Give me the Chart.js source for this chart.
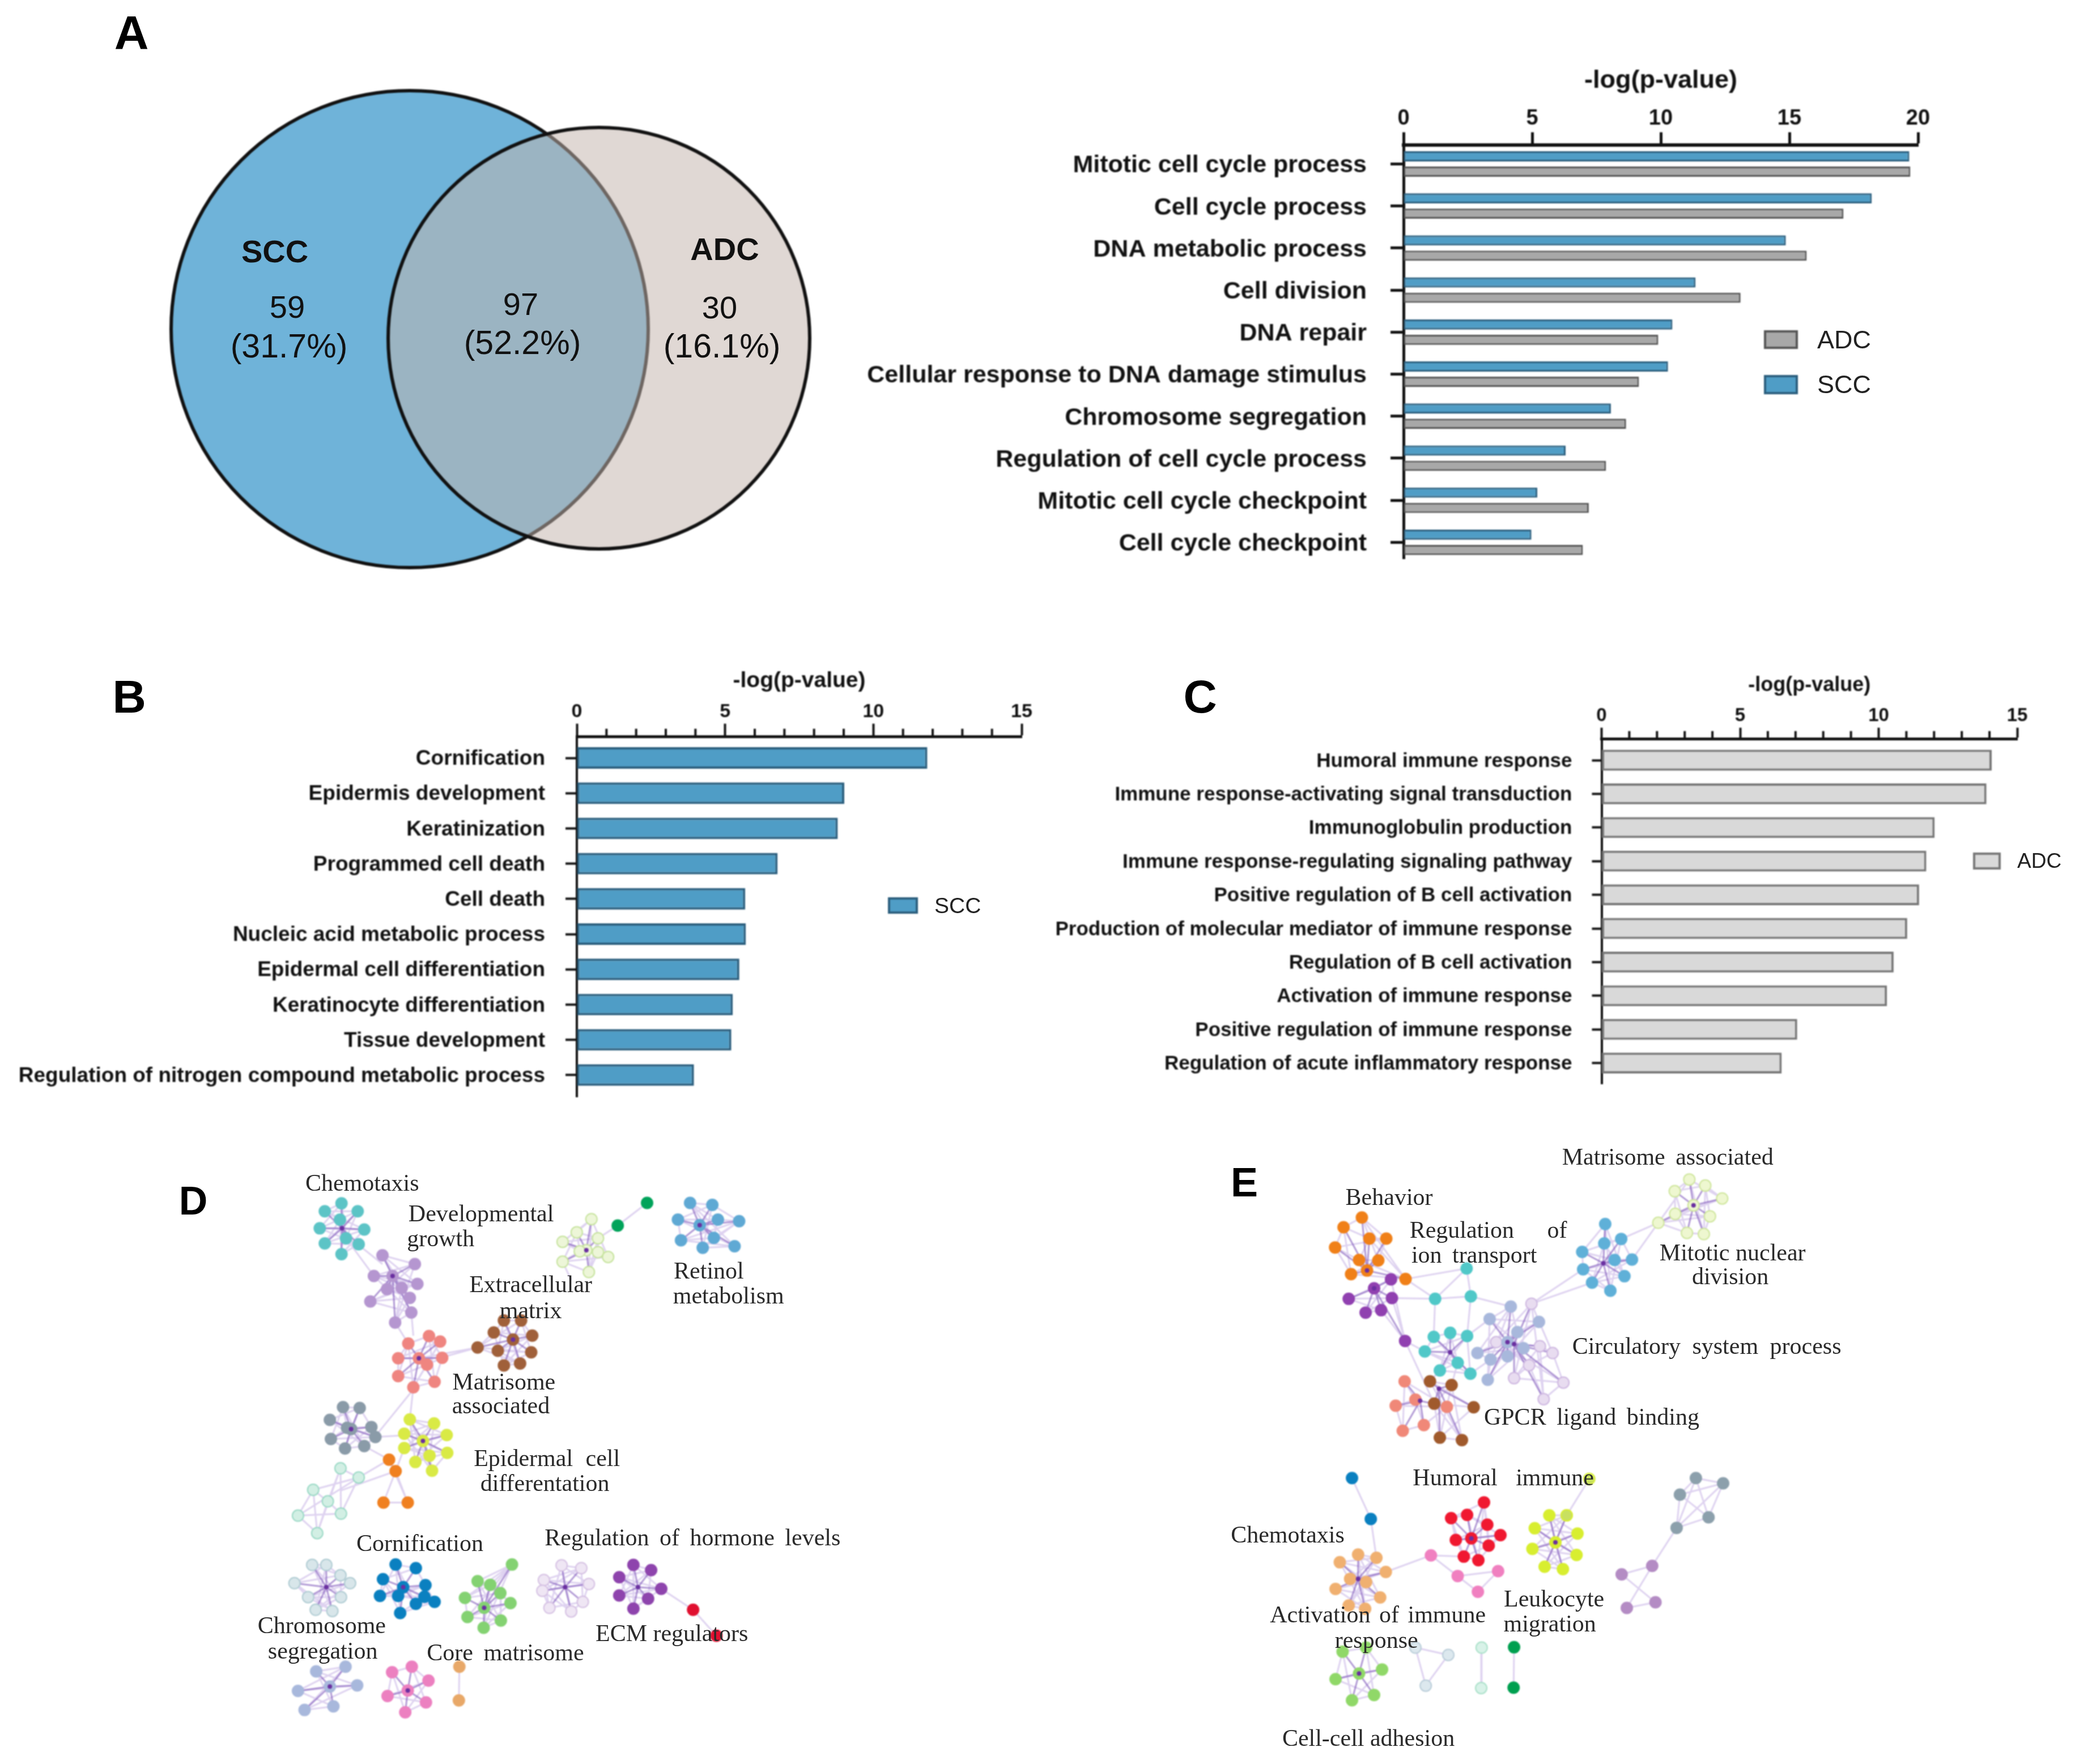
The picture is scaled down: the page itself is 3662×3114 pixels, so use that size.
<!DOCTYPE html>
<html>
<head>
<meta charset="utf-8">
<title>SCC and ADC enrichment</title>
<script src="https://cdn.jsdelivr.net/npm/chart.js@4/dist/chart.umd.min.js"></script>
<style>
    html, body { margin: 0; padding: 0; background: #fff; }
    #page { position: relative; width: 3662px; height: 3114px; overflow: hidden; }
    canvas { position: absolute; filter: blur(1px); }
    .txt { position: absolute; transform: translate(-50%, -50%); white-space: pre; filter: blur(0.7px); }
    .swatch { position: absolute; box-sizing: border-box; filter: blur(1px); }
</style>
</head>
<body>
<div id="page"></div>
<script>
// Panel A
const categoriesA = ['Mitotic cell cycle process', 'Cell cycle process', 'DNA metabolic process', 'Cell division', 'DNA repair',
    'Cellular response to DNA damage stimulus', 'Chromosome segregation', 'Regulation of cell cycle process',
    'Mitotic cell cycle checkpoint', 'Cell cycle checkpoint'];
const sccValuesA = [19.66, 18.2, 14.86, 11.35, 10.45, 10.28, 8.06, 6.3, 5.2, 4.97];
const adcValuesA = [19.7, 17.1, 15.67, 13.1, 9.9, 9.15, 8.65, 7.87, 7.2, 6.97];

// Panel B
const categoriesB = ['Cornification', 'Epidermis development', 'Keratinization', 'Programmed cell death', 'Cell death',
    'Nucleic acid metabolic process', 'Epidermal cell differentiation', 'Keratinocyte differentiation',
    'Tissue development', 'Regulation of nitrogen compound metabolic process'];
const sccValuesB = [11.82, 9.02, 8.8, 6.77, 5.68, 5.7, 5.48, 5.26, 5.21, 3.95];

// Panel C
const categoriesC = ['Humoral immune response', 'Immune response-activating signal transduction', 'Immunoglobulin production',
    'Immune response-regulating signaling pathway', 'Positive regulation of B cell activation',
    'Production of molecular mediator of immune response', 'Regulation of B cell activation',
    'Activation of immune response', 'Positive regulation of immune response', 'Regulation of acute inflammatory response'];
const adcValuesC = [14.08, 13.89, 12.02, 11.72, 11.46, 11.03, 10.54, 10.3, 7.06, 6.5];

// Venn circles, in page units
const vennCentersX = [723, 1057];
const vennCentersY = [581, 597];
const vennRadii = [421, 372];

// Network D. In hub clusters the first pair is the hub.
const chemotaxisD = [[452,240],[451,177],[418,197],[483,197],[408,240],[496,243],[418,278],[485,280],[451,305],[448,218],[460,265]];
const growthD = [[552,360],[532,308],[596,330],[515,360],[601,380],[541,393],[570,390],[508,424],[586,415],[557,477],[589,452]];
const matrisomeD = [[604,567],[583,530],[624,511],[646,525],[563,567],[650,566],[620,583],[563,612],[635,626],[593,640]];
const brownD = [[790,520],[720,540],[752,502],[772,472],[806,472],[828,510],[760,548],[826,552],[772,585],[804,580]];
const matrixD = [[935,295],[945,217],[916,250],[958,265],[888,274],[922,298],[958,300],[978,312],[888,324],[940,350]];
const darkGreenD = [[997,233],[1055,176]];
const retinolD = [[1159,232],[1140,176],[1184,181],[1116,218],[1195,218],[1237,222],[1122,270],[1187,264],[1165,289],[1228,285]];
const greyD = [[470,745],[454,690],[487,692],[428,722],[462,742],[510,740],[518,765],[430,770],[458,794],[496,788]];
const yellowD = [[612,775],[586,721],[634,731],[575,757],[659,760],[575,793],[660,805],[597,828],[625,812],[630,850]];
const orangeD = [[545,822],[558,851],[534,930],[582,930]];
const paleTealD = [[449,844],[485,867],[395,898],[424,927],[450,958],[365,963],[403,1007]];
const chromosomeD = [[421,1143],[393,1087],[421,1087],[358,1133],[449,1113],[468,1133],[385,1168],[450,1168],[400,1200],[433,1203]];
const cornificationD = [[573,1143],[558,1086],[598,1095],[533,1123],[527,1165],[617,1138],[563,1165],[615,1167],[598,1185],[635,1180],[567,1208]];
const coreD = [[733,1195],[788,1086],[720,1128],[745,1137],[695,1170],[765,1158],[785,1183],[700,1218],[766,1227],[732,1245]];
const hormoneD = [[893,1143],[886,1088],[925,1095],[851,1125],[940,1135],[848,1152],[862,1195],[928,1180],[905,1204]];
const ecmD = [[1037,1143],[1028,1087],[1063,1100],[1000,1118],[1083,1147],[1000,1164],[1057,1172],[1028,1197]];
const redD = [[1146,1200],[1192,1265]];
const periwinkleD = [[428,1393],[401,1355],[459,1343],[365,1404],[482,1390],[378,1452],[435,1443]];
const pinkD = [[582,1403],[551,1357],[590,1343],[623,1378],[542,1417],[618,1433],[577,1458]];
const peachD = [[684,1343],[683,1428]];
const linksD = [[483,280,532,330],[515,360,460,265],[557,477,583,530],[589,452,593,510],[646,566,720,540],[604,567,720,540],
    [593,640,586,721],[590,650,520,760],[518,765,586,760],[575,793,558,851],[496,788,545,822],[558,851,449,900],
    [545,822,485,867],[485,867,395,898],[449,844,424,927],[558,851,534,930],[558,851,582,930],[958,265,997,233],
    [888,324,905,370],[1083,1147,1146,1200],[788,1086,745,1137],[1237,222,1187,264]];

// Network E
const matrisomeE = [[1072,207],[1063,143],[1032,172],[1097,158],[1133,190],[1033,228],[1107,234],[997,250],[1058,275],[1094,278]];
const blueE = [[880,350],[884,253],[882,301],[918,290],[835,322],[904,342],[941,341],[837,365],[925,382],[856,398],[895,418]];
const orangeE = [[377,368],[366,237],[327,261],[382,289],[418,289],[309,311],[360,342],[401,343],[343,377],[459,389]];
const purpleE = [[392,412],[428,390],[338,438],[430,436],[374,472],[407,466],[458,542]];
const upperTealE = [[589,363],[522,438],[598,432]];
const tealE = [[554,570],[519,532],[554,522],[590,530],[500,568],[570,596],[532,615],[597,623]];
const periwinkleE = [[676,545],[683,457],[638,488],[743,495],[612,572],[710,560],[676,580],[640,588],[634,638],[697,520]];
const palePurpleE = [[690,550],[727,450],[652,545],[745,555],[772,572],[722,602],[690,634],[795,645],[753,686]];
const salmonE = [[490,690],[457,642],[480,687],[438,702],[547,705],[498,750],[453,764]];
const brownE = [[530,660],[511,642],[557,651],[520,697],[604,706],[532,781],[579,787]];
const topBlueE = [[345,881],[385,982]];
const limeE = [[850,883],[802,973]];
const redE = [[599,1030],[626,941],[556,980],[590,972],[633,996],[566,1034],[661,1022],[636,1048],[583,1075],[614,1084]];
const pinkE = [[513,1072],[570,1123],[656,1111],[613,1162]];
const yellowE = [[778,1040],[765,973],[802,973],[734,1005],[825,1018],[729,1056],[823,1071],[755,1100],[794,1106]];
const tanE = [[358,1130],[358,1070],[397,1078],[319,1089],[417,1113],[341,1130],[375,1138],[310,1155],[405,1176],[338,1196],[373,1204]];
const greyE = [[1077,881],[1135,894],[1043,922],[1104,978],[1036,1004]];
const mauveE = [[984,1098],[919,1119],[991,1188],[930,1202]];
const greenE = [[360,1364],[325,1310],[375,1300],[409,1354],[310,1378],[392,1417],[345,1430]];
const paleBlueE = [[480,1300],[550,1318],[502,1394]];
const paleTealE = [[621,1300],[620,1400]];
const darkGreenE = [[690,1299],[689,1399]];
const linksE = [[459,389,589,363],[459,389,522,438],[589,363,522,438],[430,436,522,438],[430,436,458,542],[458,542,500,568],
    [458,542,520,697],[522,438,519,532],[598,432,590,530],[598,432,683,457],[727,450,856,398],[727,450,837,365],[941,341,997,250],
    [918,290,997,250],[597,623,640,588],[590,530,638,488],[532,615,511,642],[570,596,557,651],[772,572,795,645],[722,602,753,686],
    [385,982,397,1078],[417,1113,513,1072],[513,1072,583,1075],[850,883,802,973],[1036,1004,984,1098],[557,651,579,787],[520,697,532,781]];

const SCC_FILL = '#4f9dc6', SCC_EDGE = '#2c5f7e';
const ADC_FILL = '#a8a8a8', ADC_EDGE = '#555555';
const ADC_PALE = '#d9d9d9', ADC_PALE_EDGE = '#777777';
const SPOKE = 'rgba(125,85,185,0.6)', WEB = 'rgba(190,165,225,0.5)', HUB = '#6a2fa0';
// hub kinds for the cluster tables below
const NO_HUB = 0, BARE_HUB = 1, NODE_HUB = 2;

const page = document.getElementById('page');

function addCanvas(x, y, w, h) {
    const c = document.createElement('canvas');
    c.width = w;
    c.height = h;
    c.style.left = x + 'px';
    c.style.top = y + 'px';
    c.style.width = w + 'px';
    c.style.height = h + 'px';
    page.appendChild(c);
    return c;
}

function addText(text, x, y, font, color, wordSpacing) {
    const d = document.createElement('div');
    d.className = 'txt';
    d.textContent = text;
    d.style.left = x + 'px';
    d.style.top = y + 'px';
    d.style.font = font;
    d.style.color = color || '#111';
    if (wordSpacing) d.style.wordSpacing = wordSpacing + 'px';
    page.appendChild(d);
}

function addLegendItem(label, x, y, w, h, fill, edge, size, textX) {
    const s = document.createElement('div');
    s.className = 'swatch';
    s.style.cssText = `left:${x}px;top:${y}px;width:${w}px;height:${h}px;background:${fill};border:4px solid ${edge}`;
    page.appendChild(s);
    const d = document.createElement('div');
    d.className = 'txt';
    d.textContent = label;
    d.style.cssText = `left:${textX}px;top:${y + h / 2}px;font:${size}px "Liberation Sans",Arial,sans-serif;color:#222;transform:translate(0,-50%)`;
    page.appendChild(d);
}

// small ticks between the labelled ones, placed with the x scale
const minorTicks = {
    id: 'minorTicks',
    afterDraw(chart, args, opts) {
        if (!opts.length) return;
        const x = chart.scales.x, ctx = chart.ctx, top = chart.chartArea.top;
        ctx.save();
        ctx.strokeStyle = '#111';
        ctx.lineWidth = opts.width;
        for (let v = x.min; v <= x.max; v++) {
            if (v % 5 === 0) continue;
            const px = x.getPixelForValue(v);
            ctx.beginPath();
            ctx.moveTo(px, top);
            ctx.lineTo(px, top - opts.length);
            ctx.stroke();
        }
        ctx.restore();
    }
};

function barPanel(p) {
    const w = p.boxRight - p.boxLeft, h = p.boxBottom - p.boxTop;
    const canvas = addCanvas(p.boxLeft, p.boxTop, w, h);
    new Chart(canvas, {
        type: 'bar',
        data: { labels: p.labels, datasets: p.datasets },
        plugins: [minorTicks],
        options: {
            indexAxis: 'y',
            responsive: false,
            animation: false,
            devicePixelRatio: 1,
            layout: { autoPadding: false, padding: { right: p.boxRight - p.x20, bottom: p.boxBottom - p.axisBottom } },
            plugins: {
                legend: { display: false },
                tooltip: { enabled: false },
                minorTicks: { length: p.minorLength, width: p.tickWidth }
            },
            scales: {
                x: {
                    position: 'top',
                    min: 0,
                    max: p.max,
                    afterFit: s => { s.height = p.axisTop - p.boxTop; },
                    border: { color: '#111', width: p.axisWidth },
                    grid: { drawOnChartArea: false, tickLength: p.majorLength, tickWidth: p.tickWidth, tickColor: '#111' },
                    ticks: { stepSize: 5, color: '#111', padding: p.xPad, maxRotation: 0,
                        font: { family: '"Liberation Sans", Arial', weight: 'bold', size: p.xFont } },
                    title: { display: true, text: '-log(p-value)', color: '#111', padding: { top: p.titlePad, bottom: 0 },
                        font: { family: '"Liberation Sans", Arial', weight: 'bold', size: p.titleFont } }
                },
                y: {
                    afterFit: s => {
                        s.width = p.x0 - p.boxLeft;
                        s.paddingTop = 0;
                        s.paddingBottom = 0;
                    },
                    // the value axis sits a little above the first band, so start the bands later than the default
                    afterBuildTicks: s => {
                        s._startValue = -(p.firstCenter - p.axisTop) / p.step;
                        s._valueRange = (p.axisBottom - p.axisTop) / p.step;
                    },
                    border: { color: '#111', width: p.axisWidth - 1 },
                    grid: { offset: false, drawOnChartArea: false, tickLength: p.catTick, tickWidth: p.tickWidth, tickColor: '#111' },
                    ticks: { autoSkip: false, color: '#111', padding: p.catPad, labelOffset: p.catShift,
                        font: { family: '"Liberation Sans", Arial', weight: 'bold', size: p.catFont } }
                }
            }
        }
    });
}

function bars(label, data, fill, edge, width, catPct, barPct) {
    return { label, data, backgroundColor: fill, borderColor: edge, borderWidth: width, borderSkipped: false,
        categoryPercentage: catPct, barPercentage: barPct };
}

barPanel({
    labels: categoriesA,
    datasets: [bars('SCC', sccValuesA, SCC_FILL, SCC_EDGE, 3, 0.727, 0.66), bars('ADC', adcValuesA, ADC_FILL, ADC_EDGE, 3, 0.727, 0.66)],
    boxLeft: 1500, boxRight: 3500, boxTop: 100, boxBottom: 1010,
    x0: 2477, x20: 3385, axisTop: 255.5, axisBottom: 986, firstCenter: 289.5, step: 74.2, max: 20,
    axisWidth: 6, tickWidth: 5, majorLength: 22, minorLength: 0, catTick: 23,
    xFont: 38, xPad: 1, titleFont: 45, titlePad: 16, catFont: 43, catPad: 42, catShift: 3
});

barPanel({
    labels: categoriesB,
    datasets: [bars('SCC', sccValuesB, SCC_FILL, SCC_EDGE, 4, 1, 0.61)],
    boxLeft: 0, boxRight: 1850, boxTop: 1150, boxBottom: 1950,
    x0: 1018, x20: 1803, axisTop: 1300.5, axisBottom: 1936, firstCenter: 1338, step: 62.2, max: 15,
    axisWidth: 5, tickWidth: 4, majorLength: 23, minorLength: 14, catTick: 20,
    xFont: 34, xPad: 0, titleFont: 39, titlePad: 29, catFont: 37, catPad: 36, catShift: 2
});

barPanel({
    labels: categoriesC,
    datasets: [bars('ADC', adcValuesC, ADC_PALE, ADC_PALE_EDGE, 4, 1, 0.62)],
    boxLeft: 1850, boxRight: 3662, boxTop: 1150, boxBottom: 1950,
    x0: 2826.5, x20: 3560, axisTop: 1304.6, axisBottom: 1913, firstCenter: 1342, step: 59.4, max: 15,
    axisWidth: 5, tickWidth: 4, majorLength: 20, minorLength: 14, catTick: 17,
    xFont: 33, xPad: 1, titleFont: 36, titlePad: 38, catFont: 35, catPad: 35, catShift: 2
});

addLegendItem('ADC', 3113, 583, 60, 33, ADC_FILL, ADC_EDGE, 45, 3207);
addLegendItem('SCC', 3113, 662, 60, 34, SCC_FILL, SCC_EDGE, 45, 3207);
addLegendItem('SCC', 1567, 1584, 53, 29, SCC_FILL, SCC_EDGE, 39, 1649);
addLegendItem('ADC', 3482, 1505, 49, 30, ADC_PALE, ADC_PALE_EDGE, 37, 3560);

// Venn as a bubble chart, axes run in page units
new Chart(addCanvas(250, 130, 1230, 900), {
    type: 'bubble',
    data: {
        datasets: [1, 0].map(i => ({
            label: i ? 'ADC' : 'SCC',
            order: i ? 1 : 2,
            data: [{ x: vennCentersX[i], y: vennCentersY[i], r: vennRadii[i] }],
            backgroundColor: i ? 'rgba(196,181,173,0.52)' : '#6fb3d9',
            borderColor: '#111',
            borderWidth: 6,
            hoverRadius: 0
        }))
    },
    options: {
        responsive: false,
        animation: false,
        devicePixelRatio: 1,
        layout: { autoPadding: false },
        plugins: { legend: { display: false }, tooltip: { enabled: false } },
        scales: {
            x: { display: false, min: 250, max: 1480 },
            y: { display: false, min: 130, max: 1030, reverse: true }
        }
    }
});

function network(x, y, w, h, clusters, links) {
    const spokes = [], web = [], hubs = [];
    const gap = { x: null, y: null };
    clusters.forEach(([nodes, , , hub]) => {
        if (hub !== NO_HUB) {
            hubs.push({ x: nodes[0][0], y: nodes[0][1] });
            nodes.slice(1).forEach(n => spokes.push({ x: nodes[0][0], y: nodes[0][1] }, { x: n[0], y: n[1] }, gap));
        }
        const ring = hub !== NO_HUB ? nodes.slice(1) : nodes;
        ring.forEach((n, i) => {
            const m = ring[(i + 1) % ring.length];
            web.push({ x: n[0], y: n[1] }, { x: m[0], y: m[1] }, gap);
            if (ring.length > 4) {
                const k = ring[(i + 3) % ring.length];
                web.push({ x: n[0], y: n[1] }, { x: k[0], y: k[1] }, gap);
            }
        });
    });
    links.forEach(l => web.push({ x: l[0], y: l[1] }, { x: l[2], y: l[3] }, gap));

    const datasets = [
        { data: web, showLine: true, spanGaps: false, borderColor: WEB, borderWidth: 3, pointRadius: 0, order: 4 },
        { data: spokes, showLine: true, spanGaps: false, borderColor: SPOKE, borderWidth: 3, pointRadius: 0, order: 3 },
        { data: hubs, pointRadius: 4, pointBackgroundColor: HUB, pointBorderWidth: 0, order: 1 }
    ];
    clusters.forEach(([nodes, fill, edge, hub]) => {
        datasets.push({
            data: (hub === BARE_HUB ? nodes.slice(1) : nodes).map(n => ({ x: n[0], y: n[1] })),
            pointRadius: 10,
            pointBackgroundColor: fill,
            pointBorderColor: edge,
            pointBorderWidth: 2,
            order: 2
        });
    });
    new Chart(addCanvas(x, y, w, h), {
        type: 'scatter',
        data: { datasets },
        options: {
            responsive: false,
            animation: false,
            devicePixelRatio: 1,
            layout: { autoPadding: false },
            plugins: { legend: { display: false }, tooltip: { enabled: false } },
            scales: {
                x: { display: false, min: 0, max: 1568 },
                y: { display: false, min: 0, max: 1568, reverse: true }
            }
        }
    });
}

network(200, 2000, 1400, 1100, [
    [chemotaxisD, '#5cc4c6', '#5cc4c6', BARE_HUB], [growthD, '#b596d0', '#b596d0', NODE_HUB], [matrisomeD, '#ef8580', '#ef8580', NODE_HUB],
    [brownD, '#a0603a', '#a0603a', NODE_HUB], [matrixD, '#edf6d8', '#c4e29a', NODE_HUB], [darkGreenD, '#00a35a', '#00a35a', NO_HUB],
    [retinolD, '#5fa9d4', '#5fa9d4', NODE_HUB], [greyD, '#8a9ba8', '#8a9ba8', NODE_HUB], [yellowD, '#d9ea45', '#d9ea45', NODE_HUB],
    [orangeD, '#f08020', '#f08020', NO_HUB], [paleTealD, '#d2efe4', '#98d8c4', NO_HUB], [chromosomeD, '#d8e6ea', '#aecbd2', BARE_HUB],
    [cornificationD, '#0a80c0', '#0a80c0', NODE_HUB], [coreD, '#84d272', '#84d272', NODE_HUB], [hormoneD, '#efe6f4', '#d4bfe2', BARE_HUB],
    [ecmD, '#8e44ad', '#8e44ad', BARE_HUB], [redD, '#e01030', '#e01030', NO_HUB], [periwinkleD, '#a8b8dc', '#a8b8dc', NODE_HUB],
    [pinkD, '#ec80c0', '#ec80c0', NODE_HUB], [peachD, '#e8a868', '#e8a868', NO_HUB]
], linksD);

network(2100, 1980, 1300, 1120, [
    [matrisomeE, '#eef7d0', '#cde59a', NODE_HUB], [blueE, '#5fb0d8', '#5fb0d8', BARE_HUB], [orangeE, '#f08018', '#f08018', NODE_HUB],
    [purpleE, '#9040b0', '#9040b0', NODE_HUB], [upperTealE, '#50c8c8', '#50c8c8', NO_HUB], [tealE, '#50c8c8', '#50c8c8', BARE_HUB],
    [periwinkleE, '#a8b8dc', '#a8b8dc', NODE_HUB], [palePurpleE, '#e8dcf0', '#cdb6e0', BARE_HUB], [salmonE, '#f08878', '#f08878', BARE_HUB],
    [brownE, '#a05a2c', '#a05a2c', BARE_HUB], [topBlueE, '#0a80c0', '#0a80c0', NO_HUB], [limeE, '#c8e060', '#d8ee30', NO_HUB],
    [redE, '#f01830', '#f01830', NODE_HUB], [pinkE, '#f080c0', '#f080c0', NO_HUB], [yellowE, '#d8ee30', '#d8ee30', NODE_HUB],
    [tanE, '#f0b070', '#f0b070', BARE_HUB], [greyE, '#8ca0ac', '#8ca0ac', NO_HUB], [mauveE, '#b48cc4', '#b48cc4', NO_HUB],
    [greenE, '#90d868', '#90d868', NODE_HUB], [paleBlueE, '#dce8ee', '#b8ccd8', NO_HUB], [paleTealE, '#d8f2e8', '#a8e0c8', NO_HUB],
    [darkGreenE, '#00a050', '#00a050', NO_HUB]
], linksE);

// Venn text
const SANS = '"Liberation Sans",Arial,sans-serif';
addText('SCC', 485, 443, `bold 56px ${SANS}`);
addText('59', 507, 541, `56px ${SANS}`);
addText('(31.7%)', 510, 611, `59px ${SANS}`);
addText('97', 919, 536, `56px ${SANS}`);
addText('(52.2%)', 922, 605, `59px ${SANS}`);
addText('ADC', 1279, 439, `bold 56px ${SANS}`);
addText('30', 1270, 542, `56px ${SANS}`);
addText('(16.1%)', 1274, 611, `59px ${SANS}`);

// Panel letters
addText('A', 232, 58, `bold 84px ${SANS}`, '#000');
addText('B', 228, 1230, `bold 82px ${SANS}`, '#000');
addText('C', 2118, 1230, `bold 82px ${SANS}`, '#000');
addText('D', 341, 2120, `bold 70px ${SANS}`, '#000');
addText('E', 2196, 2087, `bold 72px ${SANS}`, '#000');

// Network captions, D then E. Positions are in the same 0-1568 units as the nodes.
const SERIF = '42px "Liberation Serif","Times New Roman",serif';
const captionD = (t, x, y, ws) => addText(t, 200 + x / 1.12, 1997 + y / 1.4255, SERIF, '#2a2a2a', ws);
const captionE = (t, x, y, ws) => addText(t, 2100 + x / 1.206, 1977 + y / 1.4, SERIF, '#2a2a2a', ws);

captionD('Chemotaxis', 492, 130);
captionD('Developmental', 727, 207);
captionD('growth', 647, 270);
captionD('Extracellular', 825, 385);
captionD('matrix', 825, 450);
captionD('Retinol', 1177, 350);
captionD('metabolism', 1216, 413);
captionD('Matrisome', 772, 630);
captionD('associated', 766, 690);
captionD('Epidermal cell', 857, 822, 12);
captionD('differentation', 853, 885);
captionD('Cornification', 606, 1036);
captionD('Regulation of hormone levels', 1145, 1022, 8);
captionD('Chromosome', 412, 1243);
captionD('segregation', 414, 1307);
captionD('Core matrisome', 775, 1312, 8);
captionD('ECM regulators', 1104, 1263);

captionE('Matrisome associated', 1017, 91, 8);
captionE('Behavior', 424, 190);
captionE('Regulation of', 635, 271, 48);
captionE('ion transport', 605, 333, 8);
captionE('Mitotic nuclear', 1155, 327);
captionE('division', 1150, 387);
captionE('Circulatory system process', 1100, 558, 10);
captionE('GPCR ligand binding', 855, 733, 8);
captionE('Humoral immune', 667, 884, 22);
captionE('Chemotaxis', 208, 1025);
captionE('Leukocyte', 775, 1183);
captionE('migration', 766, 1244);
captionE('Activation of immune', 400, 1222, 5);
captionE('response', 397, 1285);
captionE('Cell-cell adhesion', 380, 1527);
</script>
</body>
</html>
